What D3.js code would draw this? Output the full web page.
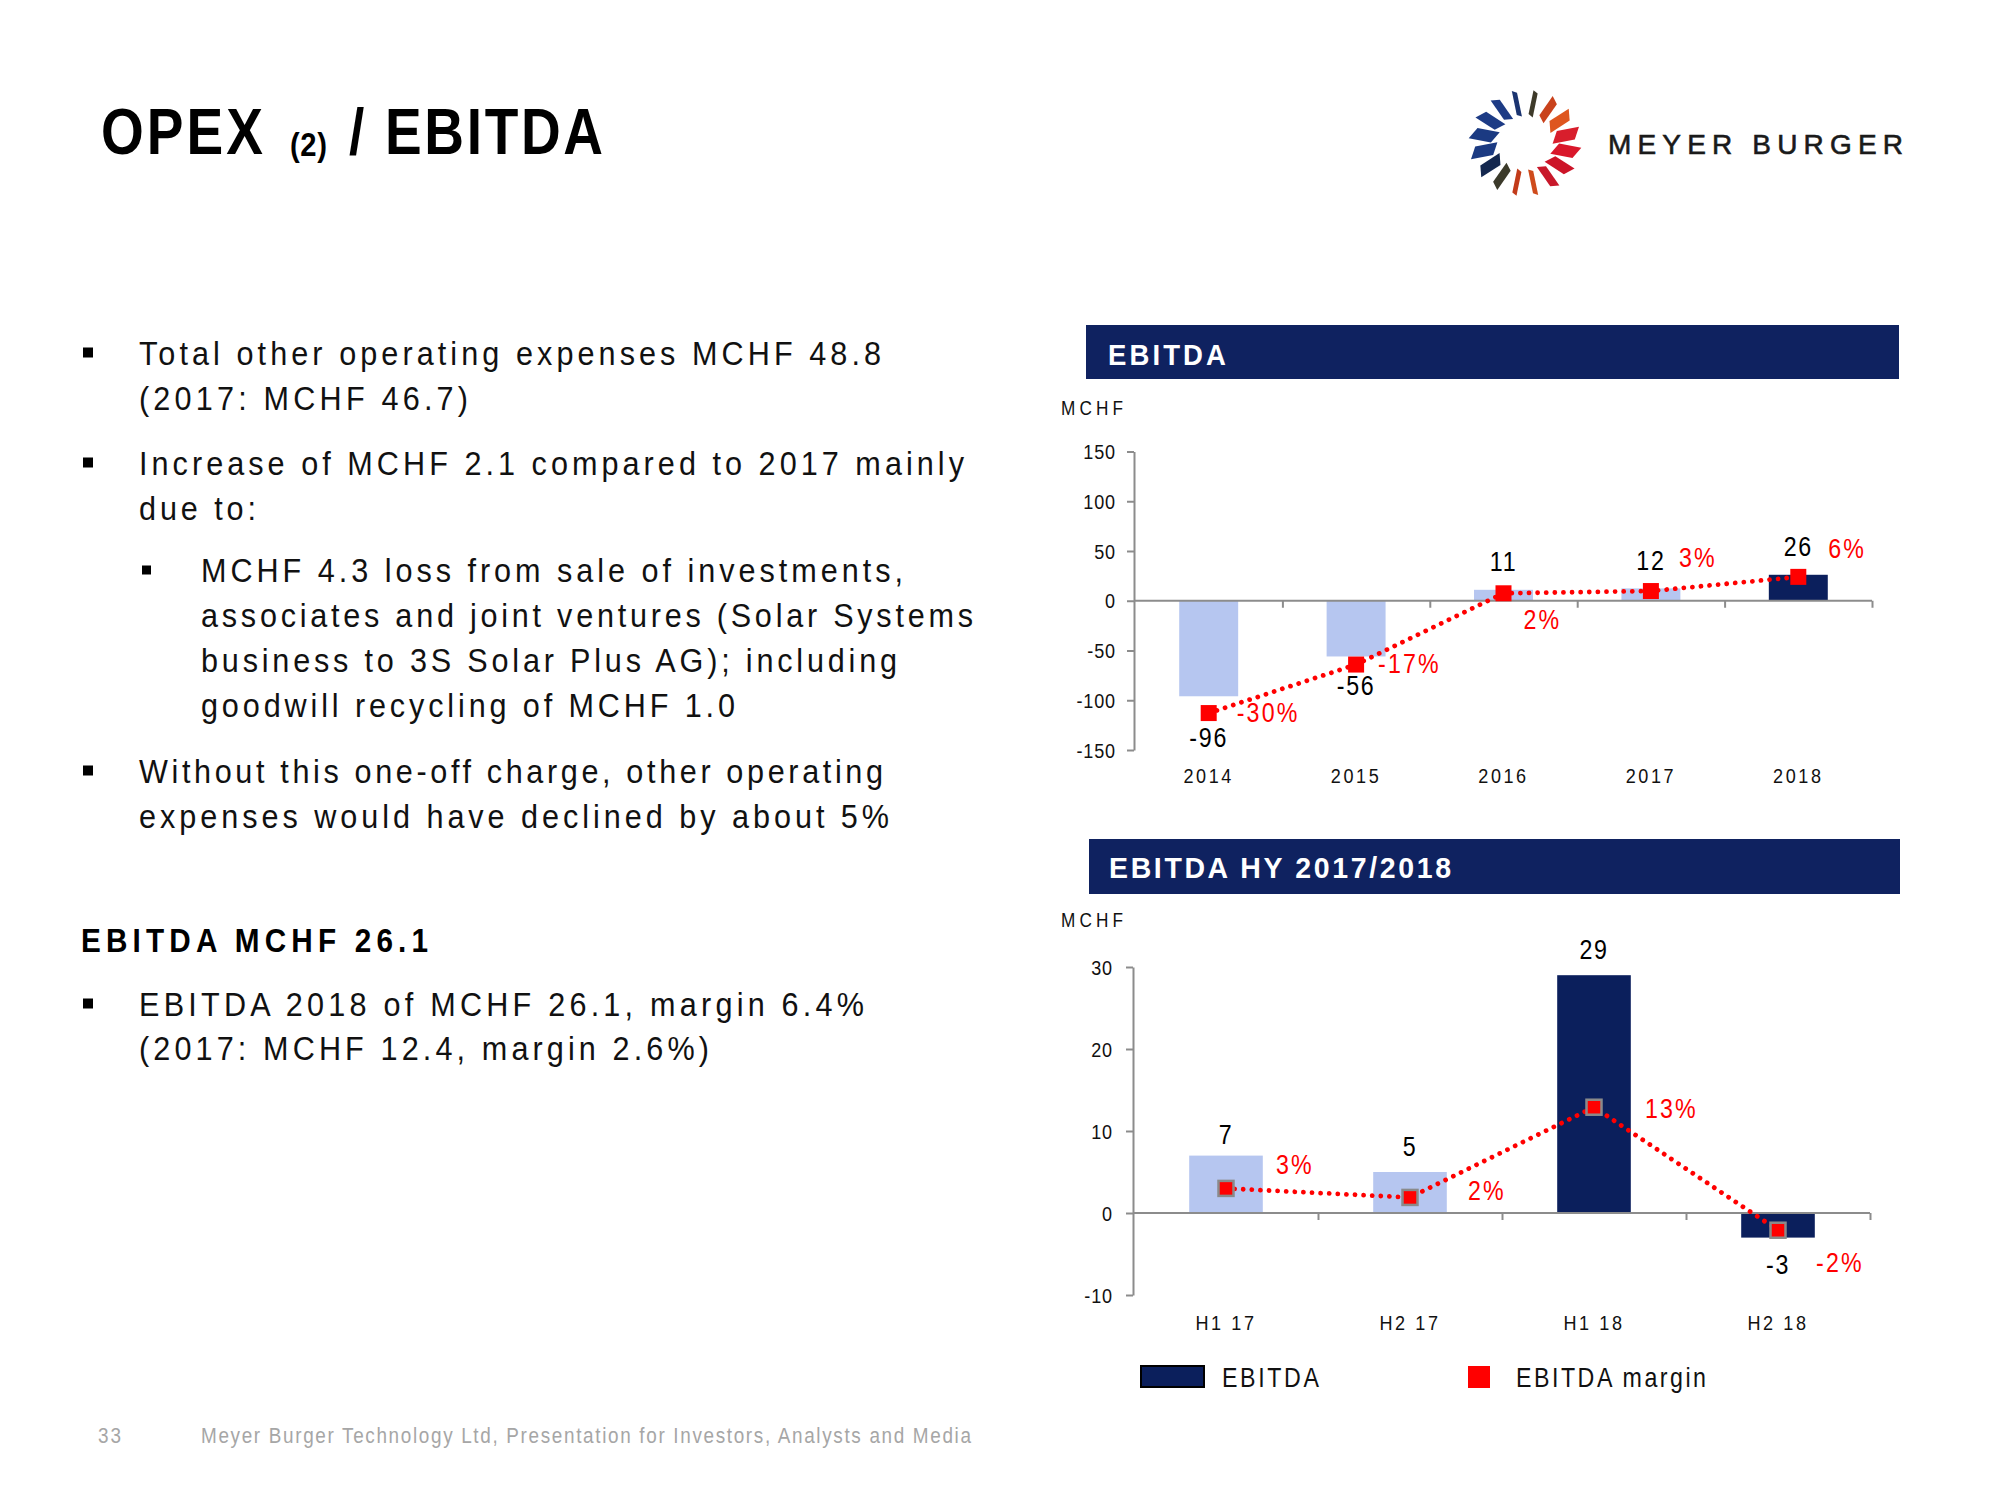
<!DOCTYPE html>
<html><head><meta charset="utf-8">
<script src="https://cdn.jsdelivr.net/npm/d3@7"></script>
<style>
body{margin:0;background:#fff;}
svg{display:block;}
</style></head><body>
<svg id="chart" width="2000" height="1500"></svg>
<script>
// ---------------- DATA ----------------
const years = ["2014", "2015", "2016", "2017", "2018"];
const ebitdaYear = [-96, -56, 11, 12.4, 26.1];          // MCHF
const marginYear = [-30.1, -17.1, 2.0, 2.6, 6.4];       // %
const yearTicks = [-150, -100, -50, 0, 50, 100, 150];

const halfYears = ["H1 17", "H2 17", "H1 18", "H2 18"];
const ebitdaHalf = [7, 5, 29, -3];                      // MCHF
const marginHalf = [3.0, 1.9, 12.9, -2.1];              // %
const halfTicks = [-10, 0, 10, 20, 30];

const legendLabels = ["EBITDA", "EBITDA margin"];

const bodyText = [
  "Total other operating expenses MCHF 48.8",
  "(2017: MCHF 46.7)",
  "Increase of MCHF 2.1 compared to 2017 mainly",
  "due to:",
  "MCHF 4.3 loss from sale of investments,",
  "associates and joint ventures (Solar Systems",
  "business to 3S Solar Plus AG); including",
  "goodwill recycling of MCHF 1.0",
  "Without this one-off charge, other operating",
  "expenses would have declined by about 5%"
];
const summaryTitle = "EBITDA MCHF 26.1";
const summaryText = ["EBITDA 2018 of MCHF 26.1, margin 6.4%", "(2017: MCHF 12.4, margin 2.6%)"];

// ---------------- LAYOUT / STYLE ----------------
const FONT = '"Liberation Sans", Arial, sans-serif';
const SX = 0.86;   // horizontal squeeze -> narrow face
const NAVY = "#0f2260", DARK = "#0b1f5c", LIGHT = "#b6c6f0", RED = "#ff0000", AXIS = "#8c8c8c";

const svg = d3.select("#chart");

function txt(g, s, x, y, o = {}) {
  const sx = o.sx != null ? o.sx : SX;
  const gg = g.append("g").attr("transform", `translate(${x},${y}) scale(${sx},1)`);
  const t = gg.append("text").attr("x", 0).attr("y", 0).text(s)
    .attr("font-family", FONT)
    .attr("font-size", o.size || 33)
    .attr("fill", o.fill || "#000")
    .attr("font-weight", o.weight || "normal");
  if (o.len) t.attr("textLength", o.len / sx).attr("lengthAdjust", "spacing");
  if (o.anchor) t.attr("text-anchor", o.anchor);
  if (o.ls != null) t.attr("letter-spacing", o.ls);
  if (o.stroke) t.attr("stroke", o.stroke).attr("stroke-width", o.sw || 0.5);
  return t;
}

// ---------- Title ----------
txt(svg, "OPEX", 101, 154, {size: 64, weight: "bold", len: 162, sx: 0.86});
txt(svg, "(2)", 290, 156, {size: 34, weight: "bold", len: 37, sx: 0.86});
txt(svg, "/", 349, 154, {size: 64, weight: "bold", len: 18, sx: 0.86});
txt(svg, "EBITDA", 385, 154, {size: 64, weight: "bold", len: 218, sx: 0.86});

// ---------- Logo ----------
(function logo() {
  const cx = 1525, cy = 143, rIn = 27, rOut = 53;
  const cols = ["#3e3a2a", "#c9421c", "#de561f", "#d81e2c", "#d9172b", "#cc1428", "#c8182a", "#cf4b1c",
                "#c23b1a", "#3b3a2a", "#14284f", "#1b3a82", "#1b3a82", "#1d3b85", "#1d3b85", "#1b3470"];
  const g = svg.append("g");
  d3.range(16).forEach(k => {
    const phi = (11.25 + 22.5 * k) * Math.PI / 180;
    const ux = Math.sin(phi) * 1.04, uy = -Math.cos(phi);
    const px = Math.cos(phi), py = Math.sin(phi);
    const w = 3 + 9 * Math.abs(Math.sin(phi));
    const s = 0.45 * w;
    const I = [cx + rIn * ux, cy + rIn * uy], O = [cx + rOut * ux, cy + rOut * uy];
    const pts = [
      [I[0] - px * w / 2 + ux * s, I[1] - py * w / 2 + uy * s],
      [I[0] + px * w / 2 - ux * s * 0.2, I[1] + py * w / 2 - uy * s * 0.2],
      [O[0] + px * w / 2 - ux * s, O[1] + py * w / 2 - uy * s],
      [O[0] - px * w / 2 + ux * s * 0.2, O[1] - py * w / 2 + uy * s * 0.2]
    ];
    g.append("polygon").attr("points", pts.map(p => p.join(",")).join(" ")).attr("fill", cols[k]);
  });
  txt(svg, "MEYER BURGER", 1608, 154, {size: 28, fill: "#1a1a1a", len: 295, sx: 1, stroke: "#1a1a1a", sw: 0.6});
})();

// ---------- Left text ----------
const bodyLayout = [
  {x: 139, y: 365, len: 742, b: 1}, {x: 139, y: 410, len: 329},
  {x: 139, y: 475, len: 825, b: 1}, {x: 139, y: 520, len: 117},
  {x: 201, y: 582, len: 702, b: 2}, {x: 201, y: 627, len: 772},
  {x: 201, y: 672, len: 696}, {x: 201, y: 717, len: 534},
  {x: 139, y: 783, len: 744, b: 1}, {x: 139, y: 828, len: 750}
];
bodyText.forEach((s, i) => {
  const L = bodyLayout[i];
  txt(svg, s, L.x, L.y, {size: 34, len: L.len, fill: "#111", sx: 0.9});
  if (L.b === 1) svg.append("rect").attr("x", 83).attr("y", L.y - 17.5).attr("width", 10).attr("height", 10).attr("fill", "#000");
  if (L.b === 2) svg.append("rect").attr("x", 142).attr("y", L.y - 16.5).attr("width", 9).attr("height", 9).attr("fill", "#000");
});
txt(svg, summaryTitle, 81, 952, {size: 33, weight: "bold", len: 347, sx: 0.9});
const sumLayout = [{x: 139, y: 1016, len: 725, b: 1}, {x: 139, y: 1060, len: 570}];
summaryText.forEach((s, i) => {
  const L = sumLayout[i];
  txt(svg, s, L.x, L.y, {size: 34, len: L.len, fill: "#111", sx: 0.9});
  if (L.b) svg.append("rect").attr("x", 83).attr("y", L.y - 17.5).attr("width", 10).attr("height", 10).attr("fill", "#000");
});

// footer
txt(svg, "33", 98, 1443, {size: 22, fill: "#a6a6a6", len: 23});
txt(svg, "Meyer Burger Technology Ltd, Presentation for Investors, Analysts and Media", 201, 1443, {size: 22, fill: "#a6a6a6", len: 770});

// ---------- Chart drawing ----------
function drawChart(cfg) {
  const g = svg.append("g");
  // header bar
  g.append("rect").attr("x", cfg.head.x).attr("y", cfg.head.y).attr("width", cfg.head.w).attr("height", cfg.head.h).attr("fill", NAVY);
  txt(g, cfg.head.title, cfg.head.tx, cfg.head.ty, {size: cfg.head.size, weight: "bold", fill: "#fff", len: cfg.head.len, sx: 0.95});
  txt(g, "MCHF", 1061, cfg.unitY, {size: 20, len: 62, fill: "#111"});

  const x = d3.scaleBand().domain(cfg.cats).range([cfg.x0, cfg.x1]).paddingInner(0.6).paddingOuter(0.3);
  const y = d3.scaleLinear().domain(cfg.yDomain).range(cfg.yRange);
  const y2 = d3.scaleLinear().domain(cfg.mDomain).range(cfg.yRange);
  const bw = x.bandwidth();
  const cxp = c => x(c) + bw / 2;

  // y axis (line + ticks via d3 axis, labels drawn narrow)
  const gy = g.append("g").attr("transform", `translate(${cfg.axisX},0)`)
    .call(d3.axisLeft(y).tickValues(cfg.ticks).tickSize(7).tickSizeOuter(0).tickFormat(""));
  gy.select(".domain").attr("stroke", AXIS).attr("stroke-width", 2);
  gy.selectAll(".tick line").attr("stroke", AXIS).attr("stroke-width", 2);
  cfg.ticks.forEach(t => txt(g, String(t), cfg.axisX - 7 - cfg.tickPad, y(t) + 7.5, {size: 21, anchor: "end", ls: 1, fill: "#111"}));

  // bars
  g.selectAll("rect.bar").data(cfg.vals).enter().append("rect").attr("class", "bar")
    .attr("x", (d, i) => x(cfg.cats[i])).attr("width", bw)
    .attr("y", d => y(Math.max(0, d))).attr("height", d => Math.abs(y(d) - y(0)))
    .attr("fill", (d, i) => cfg.cats[i].endsWith("18") ? DARK : LIGHT);

  // x axis (category boundaries)
  const xb = d3.scaleLinear().domain([0, cfg.cats.length]).range([cfg.x0, cfg.x1]);
  const gx = g.append("g").attr("transform", `translate(0,${y(0)})`)
    .call(d3.axisBottom(xb).tickValues(d3.range(1, cfg.cats.length + 1)).tickSize(7).tickSizeOuter(0).tickFormat(""));
  gx.select(".domain").attr("stroke", AXIS).attr("stroke-width", 2).attr("d", `M${cfg.axisX},0H${cfg.x1}`);
  gx.selectAll(".tick line").attr("stroke", AXIS).attr("stroke-width", 2);

  // category labels
  cfg.cats.forEach(c => txt(g, c, cxp(c), cfg.yRange[0] + cfg.catDy, {size: 21, anchor: "middle", ls: 3, fill: "#111"}));

  // margin dotted line
  const line = d3.line().x((d, i) => cxp(cfg.cats[i])).y(d => y2(d));
  g.append("path").attr("d", line(cfg.margins)).attr("fill", "none").attr("stroke", RED)
    .attr("stroke-width", 4.8).attr("stroke-linecap", "round").attr("stroke-dasharray", "0.01 8.6");

  // markers
  const ms = cfg.markerSize;
  g.selectAll("rect.mk").data(cfg.margins).enter().append("rect").attr("class", "mk")
    .attr("x", (d, i) => cxp(cfg.cats[i]) - ms / 2).attr("y", d => y2(d) - ms / 2)
    .attr("width", ms).attr("height", ms).attr("fill", RED)
    .attr("stroke", cfg.markerStroke || "none").attr("stroke-width", 2.5);

  // value labels
  cfg.vals.forEach((v, i) => {
    const yy = y(v) + (v < 0 ? cfg.valOff : -cfg.valOff) + cfg.valNudge[i];
    txt(g, String(Math.round(v)), cxp(cfg.cats[i]), yy + 10, {size: 27, anchor: "middle", ls: 2, fill: "#000"});
  });
  // margin labels
  cfg.margins.forEach((m, i) => {
    const [dx, dy] = cfg.mLab[i];
    txt(g, Math.round(m) + "%", cxp(cfg.cats[i]) + dx, y2(m) + dy + 10, {size: 27, ls: 2.5, fill: RED});
  });
}

drawChart({
  head: {x: 1086, y: 325, w: 813, h: 54, title: "EBITDA", tx: 1108, ty: 365, size: 29, len: 118},
  unitY: 415,
  cats: years, vals: ebitdaYear, margins: marginYear, ticks: yearTicks,
  x0: 1135, x1: 1872, axisX: 1134, tickPad: 11,
  yDomain: [-150, 150], yRange: [750, 451.5], mDomain: [-40, 40],
  catDy: 33, markerSize: 16,
  valOff: 28.5, valNudge: [12, 0, 0, 0, 0],
  mLab: [[28, -1], [22, -2], [20, 26], [28, -34], [30, -29]]
});

drawChart({
  head: {x: 1089, y: 839, w: 811, h: 55, title: "EBITDA HY 2017/2018", tx: 1109, ty: 878, size: 30, len: 342},
  unitY: 927,
  cats: halfYears, vals: ebitdaHalf, margins: marginHalf, ticks: halfTicks,
  x0: 1134, x1: 1870, axisX: 1133, tickPad: 13,
  yDomain: [-10, 30], yRange: [1295, 967], mDomain: [-10, 30],
  catDy: 35, markerSize: 15, markerStroke: "#8a8a8a",
  valOff: 26.5, valNudge: [5, 0, 0, 0],
  mLab: [[50, -24], [58, -7], [51, 1], [38, 32]]
});

// ---------- Legend ----------
svg.append("rect").attr("x", 1141).attr("y", 1366).attr("width", 63).attr("height", 21)
  .attr("fill", DARK).attr("stroke", "#000").attr("stroke-width", 2);
txt(svg, legendLabels[0], 1222, 1387, {size: 27, len: 97, fill: "#111"});
svg.append("rect").attr("x", 1468).attr("y", 1366).attr("width", 22).attr("height", 22).attr("fill", RED);
txt(svg, legendLabels[1], 1516, 1387, {size: 27, len: 190, fill: "#111"});
</script>
</body></html>
